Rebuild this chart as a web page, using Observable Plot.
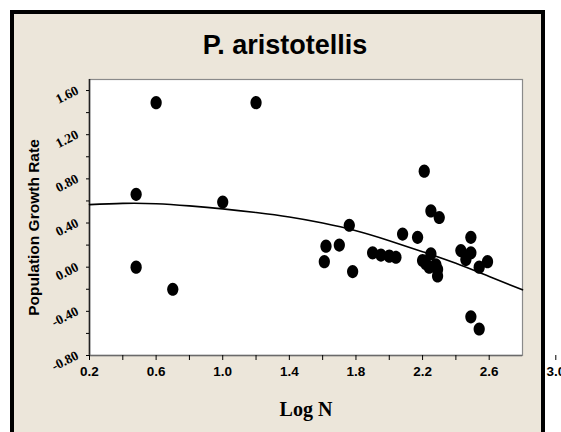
<!DOCTYPE html>
<html><head><meta charset="utf-8">
<script src="https://cdn.jsdelivr.net/npm/d3@7"></script>
<script src="https://cdn.jsdelivr.net/npm/@observablehq/plot@0.6"></script>
<style>
html,body{margin:0;padding:0;background:#fff;overflow:hidden;}
#wrap{position:relative;width:561px;height:432px;}
#panel{position:absolute;left:10px;top:10px;width:527px;height:440px;background:#ECE6DA;border:4px solid #000;}
#chart{position:absolute;left:0;top:0;}
</style></head><body>
<div id="wrap"><div id="panel"></div><div id="chart"></div></div>
<script>
const title = "P. aristotellis";
const xLabel = "Log N";
const yLabel = "Population Growth Rate";

// observed points (Log N, population growth rate)
const logN   = [0.48, 0.48, 0.60, 0.70, 1.00, 1.20,
                1.61, 1.62, 1.70, 1.76, 1.78,
                1.90, 1.95, 2.00, 2.04,
                2.08, 2.17, 2.21, 2.25, 2.30,
                2.20, 2.22, 2.25, 2.24, 2.28, 2.29, 2.29,
                2.43, 2.46, 2.49, 2.49, 2.54, 2.59, 2.49, 2.54];
const growth = [0.66, 0.00, 1.49, -0.20, 0.59, 1.49,
                0.05, 0.19, 0.20, 0.38, -0.04,
                0.13, 0.11, 0.10, 0.09,
                0.30, 0.27, 0.87, 0.51, 0.45,
                0.06, 0.03, 0.12, 0.00, 0.02, -0.02, -0.08,
                0.15, 0.07, 0.27, 0.13, 0.00, 0.05, -0.45, -0.56];

// fitted curve
const fitX = [0.2, 0.4, 0.6, 0.8, 1.0, 1.2, 1.4, 1.6, 1.8, 2.0, 2.2, 2.4, 2.6, 2.8];
const fitY = [0.567, 0.578, 0.575, 0.555, 0.528, 0.495, 0.455, 0.400, 0.330, 0.240, 0.140, 0.035, -0.085, -0.205];

const xDomain = [0.2, 2.8];
const yDomain = [-0.8, 1.7];
const xTicks = [0.2, 0.4, 0.6, 0.8, 1.0, 1.2, 1.4, 1.6, 1.8, 2.0, 2.2, 2.4, 2.6, 3.0];
const xTickLabels = [0.2, 0.6, 1.0, 1.4, 1.8, 2.2, 2.6, 3.0];
const yTicks = [-0.8, -0.6, -0.4, -0.2, 0, 0.2, 0.4, 0.6, 0.8, 1.0, 1.2, 1.4, 1.6];
const yTickLabels = [-0.8, -0.4, 0, 0.4, 0.8, 1.2, 1.6];

const points = logN.map((x, i) => ({x, y: growth[i]}));
const fit = fitX.map((x, i) => ({x, y: fitY[i]}));

const sans = "'Liberation Sans', Arial, Helvetica, sans-serif";
const serif = "'Liberation Serif', 'Times New Roman', serif";

const ellipse = {
  draw(ctx, size) {
    const r = Math.sqrt(size / Math.PI);
    const rx = r * 0.85, ry = r, k = 0.5523;
    ctx.moveTo(rx, 0);
    ctx.bezierCurveTo(rx, ry * k, rx * k, ry, 0, ry);
    ctx.bezierCurveTo(-rx * k, ry, -rx, ry * k, -rx, 0);
    ctx.bezierCurveTo(-rx, -ry * k, -rx * k, -ry, 0, -ry);
    ctx.bezierCurveTo(rx * k, -ry, rx, -ry * k, rx, 0);
    ctx.closePath();
  }
};

const chart = Plot.plot({
  width: 561, height: 432,
  marginLeft: 89, marginRight: 39, marginTop: 79, marginBottom: 77,
  style: {background: "transparent", overflow: "visible", color: "#000"},
  x: {domain: xDomain, label: null},
  y: {domain: yDomain, label: null},
  marks: [
    Plot.frame({fill: "white", stroke: "#8a8a8a", strokeWidth: 1.2}),
    Plot.ruleX([xDomain[0]], {stroke: "#222", strokeWidth: 1.6}),
    Plot.ruleY([yDomain[0]], {stroke: "#6a6a6a", strokeWidth: 1.6}),
    Plot.axisX({ticks: xTicks, tickSize: 5, tickPadding: 6, label: null,
      tickFormat: d => xTickLabels.includes(d) ? d.toFixed(1) : "",
      fontSize: 13.5, fontWeight: "bold", fontFamily: sans}),
    Plot.axisY({ticks: yTicks, tickSize: 3, label: null, tickFormat: () => ""}),
    Plot.text(yTickLabels, {y: d => d, frameAnchor: "left", text: d => d.toFixed(2),
      rotate: -27, textAnchor: "end", lineAnchor: "middle", dx: -12, dy: -1,
      fontFamily: serif, fontWeight: "bold", fontSize: 13.5, fill: "#000"}),
    Plot.line(fit, {x: "x", y: "y", curve: "natural", stroke: "#000", strokeWidth: 1.6}),
    Plot.dot(points, {x: "x", y: "y", symbol: ellipse, r: 6.6, fill: "#000", stroke: "none"}),
    Plot.text([title], {frameAnchor: "top", text: d => d, dx: -21, dy: -26, lineAnchor: "bottom",
      textAnchor: "middle", fontSize: 27, fontWeight: "bold", fontFamily: sans, fill: "#000"}),
    Plot.text([yLabel], {frameAnchor: "left", text: d => d, rotate: -90, dx: -55, dy: 10,
      textAnchor: "middle", lineAnchor: "middle", fontSize: 15.5, fontWeight: "bold", fontFamily: sans, fill: "#000"}),
    Plot.text([xLabel], {frameAnchor: "bottom", text: d => d, dy: 60, lineAnchor: "bottom",
      textAnchor: "middle", fontSize: 20, fontWeight: "bold", fontFamily: serif, fill: "#000"})
  ]
});
document.getElementById("chart").appendChild(chart);
</script>
</body></html>
